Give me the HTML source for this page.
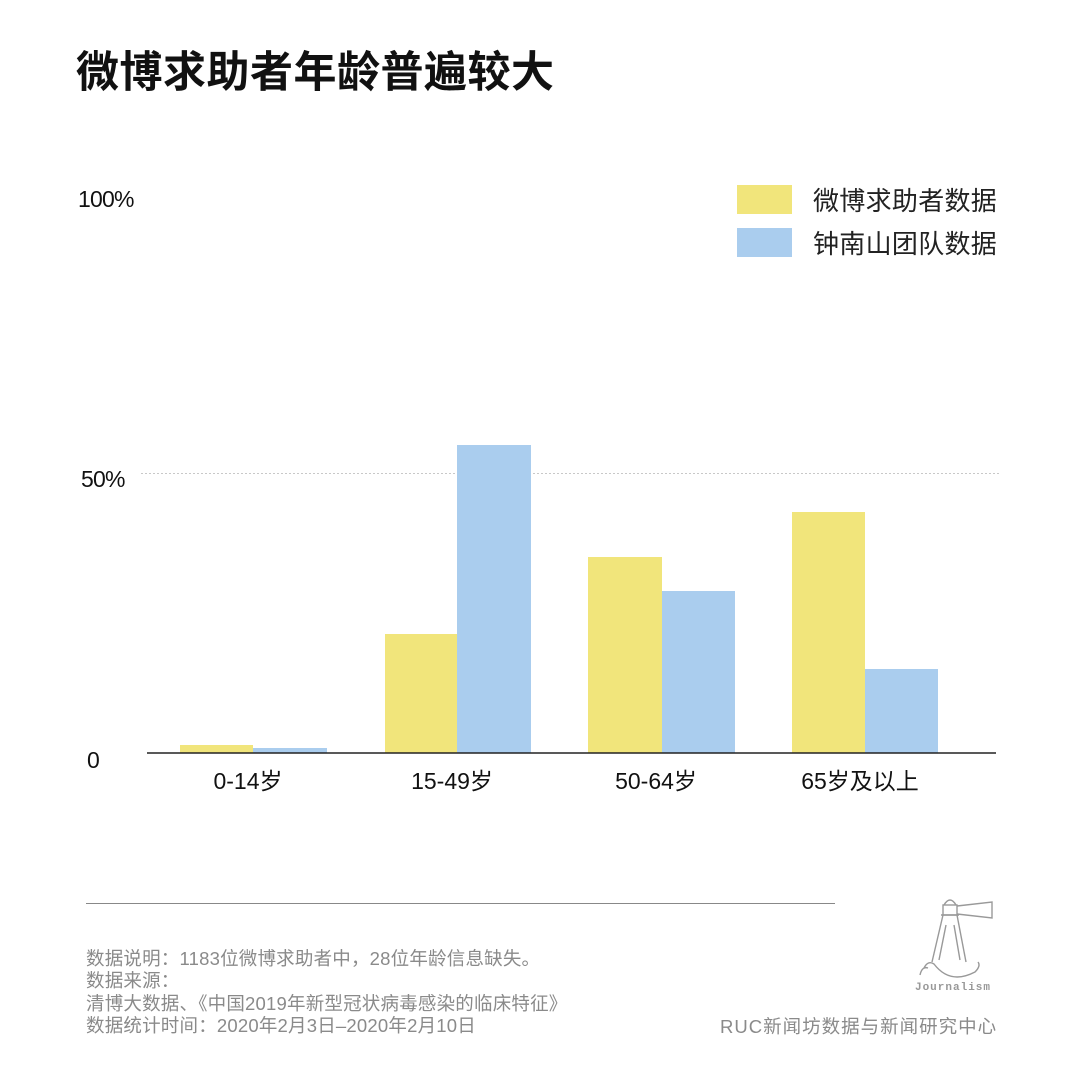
<!DOCTYPE html>
<html>
<head>
<meta charset="utf-8">
<style>
  html, body { margin:0; padding:0; background:#fff; }
  body { width:1080px; height:1080px; position:relative; overflow:hidden;
         font-family:"Liberation Sans","Noto Sans CJK SC",sans-serif; }
  .t { position:absolute; white-space:nowrap; }
  .title { left:76px; top:48px; font-size:43px; line-height:43px; font-weight:bold; color:#111; letter-spacing:0.5px;
           font-family:"Noto Sans CJK SC","Liberation Sans",sans-serif; }
  .leg { left:813px; font-size:26px; line-height:30px; color:#222; letter-spacing:0.3px; font-family:"Noto Sans CJK SC",sans-serif; }
  .ylab { font-size:23px; line-height:26px; color:#111; letter-spacing:-0.8px; }
  .xlab { font-size:23px; line-height:28px; color:#111; width:200px; text-align:center; }
  .foot { left:86px; top:948px; font-size:18.5px; line-height:22.3px; color:#8a8a8a; letter-spacing:0.2px; }
  .ruc { left:720px; top:1015px; font-size:18.5px; line-height:24px; color:#8a8a8a; letter-spacing:1px; }
</style>
</head>
<body>
<div class="t title">微博求助者年龄普遍较大</div>

<div class="t leg" style="top:185px;">微博求助者数据</div>
<div class="t leg" style="top:228px;">钟南山团队数据</div>

<div class="t ylab" style="left:78px; top:186px;">100%</div>
<div class="t ylab" style="left:81px; top:466px;">50%</div>
<div class="t ylab" style="left:87px; top:747px;">0</div>

<svg width="1080" height="1080" style="position:absolute;left:0;top:0;" xmlns="http://www.w3.org/2000/svg">
  <rect x="737" y="185" width="55" height="29" fill="#f1e57b"/>
  <rect x="737" y="228" width="55" height="29" fill="#aacdee"/>
  <line x1="141" y1="473.5" x2="999" y2="473.5" stroke="#c8c8c8" stroke-width="1" stroke-dasharray="2,2"/>
  <rect x="180" y="745" width="73" height="8" fill="#f1e57b"/>
  <rect x="253" y="748" width="74" height="5" fill="#aacdee"/>
  <rect x="385" y="634" width="72" height="119" fill="#f1e57b"/>
  <rect x="457" y="445" width="74" height="308" fill="#aacdee"/>
  <rect x="588" y="557" width="74" height="196" fill="#f1e57b"/>
  <rect x="662" y="591" width="73" height="162" fill="#aacdee"/>
  <rect x="792" y="512" width="73" height="241" fill="#f1e57b"/>
  <rect x="865" y="669" width="73" height="84" fill="#aacdee"/>
  <line x1="147" y1="753" x2="996" y2="753" stroke="#222" stroke-width="1.5"/>
  <line x1="86" y1="903.5" x2="835" y2="903.5" stroke="#888" stroke-width="1"/>
  <g fill="none" stroke="#999" stroke-width="1.4">
    <path d="M944 905 Q950 895 956 905"/>
    <rect x="943" y="905" width="14" height="10"/>
    <line x1="941" y1="915" x2="959" y2="915"/>
    <path d="M957 906 L992 902 L992 918 L957 914"/>
    <line x1="943" y1="915" x2="932" y2="962"/>
    <line x1="957" y1="915" x2="966" y2="962"/>
    <line x1="946" y1="925" x2="939" y2="960"/>
    <line x1="954" y1="925" x2="960" y2="960"/>
    <path d="M924 968 Q928 960 934 964 Q950 985 975 972 Q981 966 978 962"/>
    <path d="M920 975 Q922 966 928 968"/>
  </g>
  <text x="953" y="990" font-family="Liberation Mono, monospace" font-size="11" font-weight="bold" fill="#999" text-anchor="middle" letter-spacing="1">Journalism</text>
</svg>

<div class="t xlab" style="left:148px; top:767px;">0-14岁</div>
<div class="t xlab" style="left:352px; top:767px;">15-49岁</div>
<div class="t xlab" style="left:556px; top:767px;">50-64岁</div>
<div class="t xlab" style="left:760px; top:767px;">65岁及以上</div>

<div class="t foot">数据说明：1183位微博求助者中，28位年龄信息缺失。<br>数据来源：<br>清博大数据、《中国2019年新型冠状病毒感染的临床特征》<br>数据统计时间：2020年2月3日–2020年2月10日</div>

<div class="t ruc">RUC新闻坊数据与新闻研究中心</div>
</body>
</html>
